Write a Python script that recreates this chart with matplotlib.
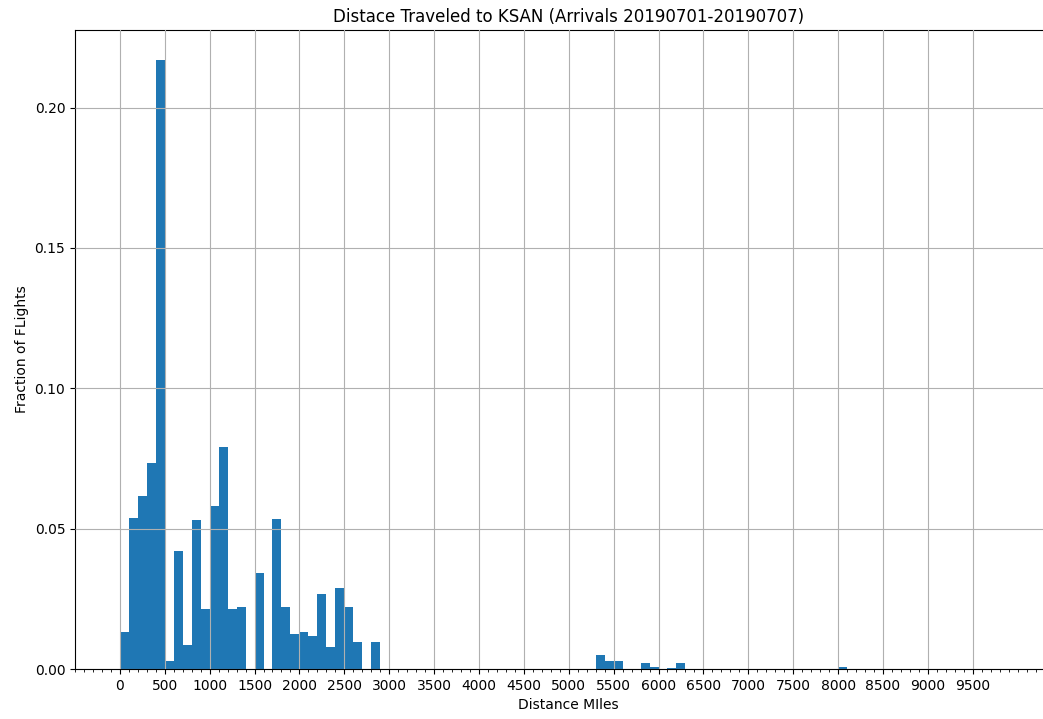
import matplotlib
matplotlib.use('Agg')
import matplotlib.pyplot as plt
from matplotlib.ticker import MultipleLocator
import numpy as np

# histogram bins: 100 mile wide, 0 to 10000
bin_edges = np.arange(0, 10100, 100)

# fraction of flights per bin, keyed by bin start
fractions = {
    0: 0.0131, 100: 0.0539, 200: 0.0616, 300: 0.0734, 400: 0.2168,
    500: 0.0030, 600: 0.0420, 700: 0.0084, 800: 0.0531, 900: 0.0215,
    1000: 0.0580, 1100: 0.0790, 1200: 0.0215, 1300: 0.0222,
    1500: 0.0341, 1700: 0.0536, 1800: 0.0222, 1900: 0.0126,
    2000: 0.0131, 2100: 0.0119, 2200: 0.0269, 2300: 0.0077,
    2400: 0.0289, 2500: 0.0222, 2600: 0.0096, 2800: 0.0096,
    5300: 0.0049, 5400: 0.0030, 5500: 0.0030,
    5800: 0.0021, 5900: 0.0007, 6100: 0.0003, 6200: 0.0021,
    8000: 0.0006,
}

bin_starts = list(fractions.keys())
weights = list(fractions.values())

fig = plt.figure(figsize=(10.43, 7.19), dpi=100)
ax = fig.add_axes([0.0719, 0.0695, 0.9468, 0.8888])
ax.hist(bin_starts, bins=bin_edges, weights=weights, color='#1f77b4')

ax.set_xticks(np.arange(0, 10000, 500))
ax.xaxis.set_minor_locator(MultipleLocator(100))
ax.set_yticks([0.0, 0.05, 0.10, 0.15, 0.20])
ax.set_yticklabels(['0.00', '0.05', '0.10', '0.15', '0.20'])
ax.grid(True)
ax.set_axisbelow(False)

ax.set_title("Distace Traveled to KSAN (Arrivals 20190701-20190707)")
ax.set_xlabel("Distance MIles")
ax.set_ylabel("Fraction of FLights")
fig.set_facecolor('white')
fig.savefig('out.png', dpi=100)
